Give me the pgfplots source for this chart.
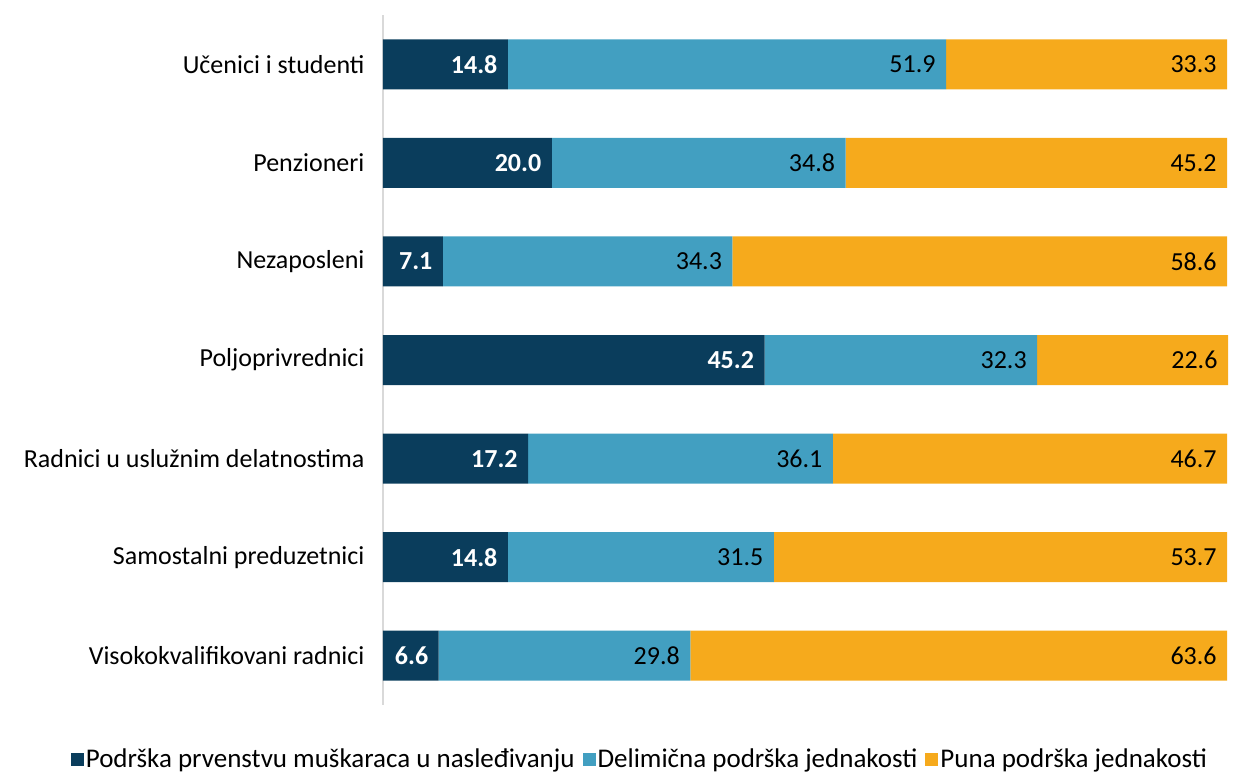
\documentclass[border=0pt]{standalone}
\usepackage{fontspec}
\setmainfont{Carlito}
\usepackage{pgfplots}
\pgfplotsset{compat=1.18}
\definecolor{c1}{HTML}{0A3D5C}
\definecolor{c2}{HTML}{429FC1}
\definecolor{c3}{HTML}{F6AA1C}
\begin{document}
\begin{tikzpicture}
\path[use as bounding box] (-383pt,-68pt) rectangle (851pt,705pt);
\begin{axis}[
  at={(0pt,0pt)}, anchor=south west,
  scale only axis, width=845pt, height=690pt,
  xbar stacked, bar width=50pt,
  xmin=0, xmax=100.1, ymin=-0.5, ymax=6.5, y dir=reverse,
  axis lines*=left,
  axis line style={-},
  x axis line style={draw=none},
  y axis line style={draw=black!15, line width=2pt},
  xtick=\empty,
  ytick={0,1,2,3,4,5,6},
  yticklabels={Učenici i studenti,Penzioneri,Nezaposleni,Poljoprivrednici,Radnici u uslužnim delatnostima,Samostalni preduzetnici,Visokokvalifikovani radnici},
  major tick length=0pt,
  yticklabel style={font=\fontsize{26}{30}\selectfont, xshift=-15pt},
  point meta=explicit symbolic,
  nodes near coords,
  nodes near coords style={anchor=east, xshift={\pgfplotspointmeta*4.2208pt-7pt}, font=\fontsize{26}{30}\selectfont, text=black},
  legend style={at={(0.304,-0.078)}, anchor=center, draw=none, legend columns=3,
    font=\fontsize{27}{30}\selectfont,
    /tikz/every even column/.append style={column sep=6pt}},
  legend image code/.code={\fill[#1] (0pt,-7pt) rectangle (13pt,6pt);},
]
\addplot[fill=c1, draw=none, nodes near coords style={text=white, font=\fontsize{26}{30}\selectfont\bfseries}] coordinates {
 (14.8,0) [14.8] (20.0,1) [20.0] (7.1,2) [7.1] (45.2,3) [45.2] (17.2,4) [17.2] (14.8,5) [14.8] (6.6,6) [6.6]};
\addplot[fill=c2, draw=none] coordinates {
 (51.9,0) [51.9] (34.8,1) [34.8] (34.3,2) [34.3] (32.3,3) [32.3] (36.1,4) [36.1] (31.5,5) [31.5] (29.8,6) [29.8]};
\addplot[fill=c3, draw=none] coordinates {
 (33.3,0) [33.3] (45.2,1) [45.2] (58.6,2) [58.6] (22.6,3) [22.6] (46.7,4) [46.7] (53.7,5) [53.7] (63.6,6) [63.6]};
\legend{Podrška prvenstvu muškaraca u nasleđivanju, Delimična podrška jednakosti, Puna podrška jednakosti}
\end{axis}
\end{tikzpicture}
\end{document}
